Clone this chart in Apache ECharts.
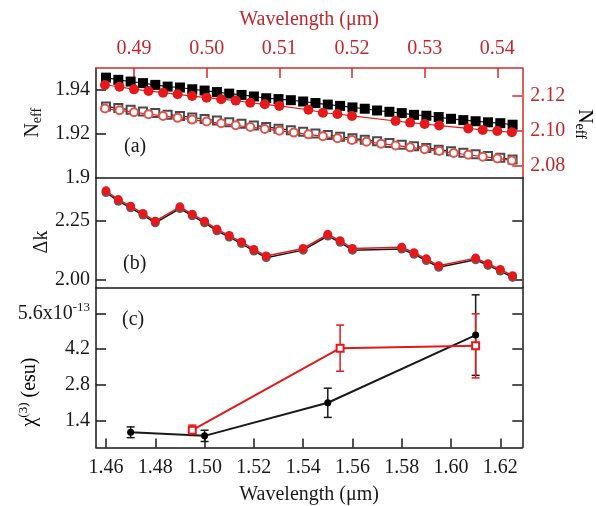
<!DOCTYPE html>
<html>
<head>
<meta charset="utf-8">
<script src="https://cdn.jsdelivr.net/npm/echarts@6/dist/echarts.min.js"></script>
<style>html,body{margin:0;padding:0;background:#fff;}#c{width:596px;height:506px;}</style>
</head>
<body>
<div id="c"></div>
<script>
// ---------- data ----------
// panel (a): bottom wavelength axis (black), top wavelength axis (red)
const xA = [1.460,1.465,1.470,1.475,1.480,1.485,1.490,1.495,1.500,1.505,1.510,1.515,1.520,1.525,1.530,1.535,1.540,1.545,1.550,1.555,1.560,1.565,1.570,1.575,1.580,1.585,1.590,1.595,1.600,1.605,1.610,1.615,1.620,1.625];
const neffFilledBlack = [1.9456,1.9446,1.9438,1.9431,1.9423,1.9415,1.9411,1.9403,1.9397,1.9390,1.9383,1.9377,1.9370,1.9362,1.9358,1.9353,1.9347,1.9340,1.9333,1.9327,1.9320,1.9314,1.9306,1.9300,1.9294,1.9286,1.9282,1.9276,1.9268,1.9262,1.9257,1.9252,1.9248,1.9241];
const neffOpenBlack = [1.9324,1.9317,1.9309,1.9301,1.9294,1.9287,1.9281,1.9274,1.9267,1.9260,1.9252,1.9245,1.9238,1.9231,1.9223,1.9216,1.9209,1.9201,1.9194,1.9186,1.9179,1.9172,1.9165,1.9157,1.9150,1.9143,1.9135,1.9127,1.9120,1.9113,1.9106,1.9098,1.9090,1.9082];
const xTopFilledRed = [0.486,0.488,0.490,0.492,0.494,0.496,0.498,0.500,0.502,0.504,0.506,0.508,0.510,0.514,0.516,0.518,0.520,0.526,0.528,0.530,0.532,0.536,0.538,0.540,0.542];
const neffFilledRed = [2.1261,2.1251,2.1236,2.1227,2.1217,2.1208,2.1198,2.1189,2.1180,2.1172,2.1160,2.1151,2.1142,2.1120,2.1103,2.1096,2.1085,2.1056,2.1047,2.1039,2.1030,2.1014,2.1005,2.0999,2.0992];
const xTopOpenRed = [0.486,0.488,0.490,0.492,0.494,0.496,0.498,0.500,0.502,0.504,0.506,0.508,0.510,0.512,0.514,0.516,0.518,0.520,0.522,0.524,0.526,0.528,0.530,0.532,0.534,0.536,0.538,0.540,0.542];
const neffOpenRed = [2.1127,2.1117,2.1106,2.1095,2.1085,2.1074,2.1064,2.1053,2.1043,2.1032,2.1022,2.1011,2.1001,2.0990,2.0980,2.0969,2.0958,2.0948,2.0938,2.0927,2.0917,2.0906,2.0896,2.0885,2.0874,2.0864,2.0853,2.0843,2.0832];
// panel (b): delta k
const xDk = [1.460,1.465,1.470,1.475,1.480,1.490,1.495,1.500,1.505,1.510,1.515,1.520,1.525,1.540,1.550,1.555,1.560,1.580,1.585,1.590,1.595,1.610,1.615,1.620,1.625];
const dkRed = [2.376,2.339,2.311,2.280,2.247,2.308,2.277,2.247,2.213,2.186,2.159,2.127,2.099,2.131,2.191,2.164,2.131,2.136,2.113,2.087,2.058,2.090,2.066,2.042,2.015];
const dkBlack = [2.369,2.332,2.304,2.273,2.240,2.301,2.270,2.240,2.206,2.179,2.152,2.120,2.092,2.124,2.184,2.157,2.124,2.129,2.106,2.080,2.051,2.083,2.059,2.035,2.008];
// panel (c): chi(3) in units of 1e-13 esu
const xChiBlack = [1.47,1.50,1.55,1.61];
const chiBlack = [0.96,0.82,2.11,4.75];
const chiBlackErr = [0.21,0.22,0.57,1.57];
const xChiRed = [1.495,1.555,1.61];
const chiRed = [1.04,4.24,4.33];
const chiRedErr = [0.20,0.90,1.25];
// tick values
const topTicks = [0.49,0.50,0.51,0.52,0.53,0.54];
const bottomTicks = [1.46,1.48,1.50,1.52,1.54,1.56,1.58,1.60,1.62];
const neffLeftTicks = [1.92,1.94];
const neffLeftLabels = [1.9,1.92,1.94];
const neffRightTicks = [2.08,2.10,2.12];
const dkTicks = [2.00,2.25];
const chiTicks = [1.4,2.8,4.2,5.6];

// ---------- styling ----------
const FONT = "'Liberation Serif','Times New Roman',serif";
const RED = '#e3191c';
const RED_T = '#c1272d';
const RED_L = '#d42a2a';
const BLK = '#1a1a1a';
const X_MIN = 1.45594, X_MAX = 1.62893;
const T_MIN = 0.48477, T_MAX = 0.54344;

const zip = (xs, ys) => xs.map((x, i) => [x, ys[i]]);
const zip3 = (xs, ys, es) => xs.map((x, i) => [x, ys[i], es[i]]);

function errBar(color) {
  return function (params, api) {
    const x = api.value(0), y = api.value(1), e = api.value(2);
    const t = api.coord([x, y + e]), b = api.coord([x, y - e]);
    const w = 4;
    const st = { stroke: color, lineWidth: 1.5 };
    return { type: 'group', children: [
      { type: 'line', shape: { x1: t[0], y1: t[1], x2: b[0], y2: b[1] }, style: st },
      { type: 'line', shape: { x1: t[0] - w, y1: t[1], x2: t[0] + w, y2: t[1] }, style: st },
      { type: 'line', shape: { x1: b[0] - w, y1: b[1], x2: b[0] + w, y2: b[1] }, style: st }
    ]};
  };
}

function lbl(color, extra) {
  return Object.assign({ color: color, fontSize: 20, fontFamily: FONT }, extra || {});
}
function tok(size, color, extra) {
  return Object.assign({ fontSize: size, fontFamily: FONT, color: color }, extra || {});
}
function line(color) { return { show: true, onZero: false, lineStyle: { color: color, width: 1.5 } }; }

const chart = echarts.init(document.getElementById('c'), null, { renderer: 'canvas' });
chart.setOption({
  animation: false,
  backgroundColor: '#ffffff',
  grid: [
    { left: 96, right: 73.7, top: 68, height: 109.5, outerBoundsMode: 'none' },
    { left: 96, right: 73.7, top: 177.5, height: 110, outerBoundsMode: 'none' },
    { left: 96, right: 73.7, top: 287.5, height: 160, outerBoundsMode: 'none' }
  ],
  xAxis: [
    { gridIndex: 0, type: 'value', position: 'top', min: T_MIN, max: T_MAX,
      axisLine: line(RED_L),
      axisTick: { show: true, inside: true, length: 10, customValues: topTicks, lineStyle: { color: RED_L, width: 1.5 } },
      axisLabel: lbl(RED_T, { customValues: topTicks, formatter: v => v.toFixed(2), margin: 9 }),
      splitLine: { show: false },
      name: 'Wavelength (\u03bcm)', nameLocation: 'middle', nameGap: 38,
      nameTextStyle: lbl(RED_T) },
    { gridIndex: 0, type: 'value', position: 'bottom', min: X_MIN, max: X_MAX,
      axisLine: line(BLK), axisTick: { show: false }, axisLabel: { show: false }, splitLine: { show: false } },
    { gridIndex: 1, type: 'value', position: 'bottom', min: X_MIN, max: X_MAX,
      axisLine: line(BLK), axisTick: { show: false }, axisLabel: { show: false }, splitLine: { show: false } },
    { gridIndex: 2, type: 'value', position: 'bottom', min: X_MIN, max: X_MAX,
      axisLine: line(BLK),
      axisTick: { show: true, inside: true, length: 9, customValues: bottomTicks, lineStyle: { color: BLK, width: 1.5 } },
      axisLabel: lbl(BLK, { customValues: bottomTicks, formatter: v => v.toFixed(2), margin: 10 }),
      splitLine: { show: false },
      name: 'Wavelength (\u03bcm)', nameLocation: 'middle', nameGap: 37,
      nameTextStyle: lbl(BLK) }
  ],
  yAxis: [
    { gridIndex: 0, type: 'value', position: 'left', min: 1.9, max: 1.95,
      axisLine: line(BLK),
      axisTick: { show: true, inside: true, length: 10, customValues: neffLeftTicks, lineStyle: { color: BLK, width: 1.5 } },
      axisLabel: lbl(BLK, { customValues: neffLeftLabels, margin: 6,
        formatter: v => Math.abs(v - 1.9) < 1e-9 ? '1.9' : v.toFixed(2) }),
      splitLine: { show: false },
      name: '{n|N}{s|eff}', nameLocation: 'middle', nameGap: 46, nameRotate: 90,
      nameTextStyle: lbl(BLK, { rich: { n: tok(20, BLK), s: tok(14, BLK, { padding: [8, 0, 0, 0] }) } }) },
    { gridIndex: 0, type: 'value', position: 'right', min: 2.07346, max: 2.13576,
      axisLine: line(RED_L),
      axisTick: { show: true, inside: true, length: 10, customValues: neffRightTicks, lineStyle: { color: RED_L, width: 1.5 } },
      axisLabel: lbl(RED_T, { customValues: neffRightTicks, formatter: v => v.toFixed(2), margin: 8 }),
      splitLine: { show: false } },
    { gridIndex: 1, type: 'value', position: 'left', min: 1.9651, max: 2.4328,
      axisLine: line(BLK),
      axisTick: { show: true, inside: true, length: 10, customValues: dkTicks, lineStyle: { color: BLK, width: 1.5 } },
      axisLabel: lbl(BLK, { customValues: dkTicks, formatter: v => v.toFixed(2), margin: 6 }),
      splitLine: { show: false } },
    { gridIndex: 1, type: 'value', position: 'right', min: 1.9651, max: 2.4328,
      axisLine: line(BLK),
      axisTick: { show: true, inside: true, length: 10, customValues: dkTicks, lineStyle: { color: BLK, width: 1.5 } },
      axisLabel: { show: false }, splitLine: { show: false } },
    { gridIndex: 2, type: 'value', position: 'left', min: 0.366, max: 6.606,
      axisLine: line(BLK),
      axisTick: { show: true, inside: true, length: 10, customValues: chiTicks, lineStyle: { color: BLK, width: 1.5 } },
      axisLabel: lbl(BLK, { customValues: chiTicks, margin: 6,
        formatter: v => Math.abs(v - 5.6) < 1e-9 ? '{b|5.6x10}{sup|-13}' : '{b|' + v.toFixed(1) + '}',
        rich: { b: tok(20, BLK), sup: tok(13, BLK, { padding: [0, 0, 12, 0] }) } }),
      splitLine: { show: false } },
    { gridIndex: 2, type: 'value', position: 'right', min: 0.366, max: 6.606,
      axisLine: line(BLK),
      axisTick: { show: true, inside: true, length: 10, customValues: chiTicks, lineStyle: { color: BLK, width: 1.5 } },
      axisLabel: { show: false }, splitLine: { show: false } }
  ],
  series: [
    // panel (a)
    { type: 'line', xAxisIndex: 1, yAxisIndex: 0, data: zip(xA, neffOpenBlack),
      symbol: 'emptyRect', symbolSize: 8, itemStyle: { color: '#4a4a4a', borderWidth: 1 },
      lineStyle: { color: BLK, width: 1.2 }, z: 2 },
    { type: 'line', xAxisIndex: 0, yAxisIndex: 1, data: zip(xTopOpenRed, neffOpenRed),
      symbol: 'emptyCircle', symbolSize: 8, itemStyle: { color: '#d9574f', borderWidth: 1 },
      lineStyle: { color: RED, width: 1.2 }, z: 3 },
    { type: 'line', xAxisIndex: 1, yAxisIndex: 0, data: zip(xA, neffFilledBlack),
      symbol: 'rect', symbolSize: 10, itemStyle: { color: '#000' },
      lineStyle: { color: BLK, width: 1.2 }, z: 4 },
    { type: 'line', xAxisIndex: 0, yAxisIndex: 1, data: zip(xTopFilledRed, neffFilledRed),
      symbol: 'circle', symbolSize: 10, itemStyle: { color: RED },
      lineStyle: { color: RED, width: 1.2 }, z: 5 },
    // panel (b)
    { type: 'line', xAxisIndex: 2, yAxisIndex: 2, data: zip(xDk, dkBlack),
      symbol: 'circle', symbolSize: 9, itemStyle: { color: '#6b5a5a' },
      lineStyle: { color: BLK, width: 1.5 }, z: 2 },
    { type: 'line', xAxisIndex: 2, yAxisIndex: 2, data: zip(xDk, dkRed),
      symbol: 'circle', symbolSize: 9, itemStyle: { color: RED },
      lineStyle: { color: RED, width: 1.5 }, z: 3 },
    // panel (c)
    { type: 'custom', xAxisIndex: 3, yAxisIndex: 4, data: zip3(xChiBlack, chiBlack, chiBlackErr),
      renderItem: errBar(BLK), encode: { x: 0, y: 1 }, z: 2 },
    { type: 'custom', xAxisIndex: 3, yAxisIndex: 4, data: zip3(xChiRed, chiRed, chiRedErr),
      renderItem: errBar(RED), encode: { x: 0, y: 1 }, z: 3 },
    { type: 'line', xAxisIndex: 3, yAxisIndex: 4, data: zip(xChiBlack, chiBlack),
      symbol: 'circle', symbolSize: 7, itemStyle: { color: '#000' },
      lineStyle: { color: BLK, width: 2 }, z: 4 },
    { type: 'line', xAxisIndex: 3, yAxisIndex: 4, data: zip(xChiRed, chiRed),
      symbol: 'emptyRect', symbolSize: 7, itemStyle: { color: RED, borderWidth: 1 },
      lineStyle: { color: RED, width: 2 }, z: 5 }
  ],
  graphic: [
    { type: 'text', x: 584, y: 124, rotation: -Math.PI / 2,
      style: { text: '{n|N}{s|eff}', align: 'center', verticalAlign: 'middle',
        rich: { n: tok(20, RED_T), s: tok(14, RED_T, { padding: [8, 0, 0, 0] }) } } },
    { type: 'text', x: 42, y: 242, rotation: Math.PI / 2,
      style: { text: '\u0394k', font: '20px ' + FONT, fill: BLK, align: 'center', verticalAlign: 'middle' } },
    { type: 'text', x: 30, y: 392, rotation: Math.PI / 2,
      style: { text: '{c|\u03c7}{s|(3)}{t| (esu)}', align: 'center', verticalAlign: 'middle',
        rich: { c: tok(20, BLK), s: tok(13, BLK, { padding: [0, 0, 12, 0] }), t: tok(20, BLK) } } },
    { type: 'text', left: 124, top: 137, style: { text: '(a)', font: '20px ' + FONT, fill: BLK } },
    { type: 'text', left: 123, top: 254, style: { text: '(b)', font: '20px ' + FONT, fill: BLK } },
    { type: 'text', left: 122, top: 310, style: { text: '(c)', font: '20px ' + FONT, fill: BLK } }
  ]
});
</script>
</body>
</html>
